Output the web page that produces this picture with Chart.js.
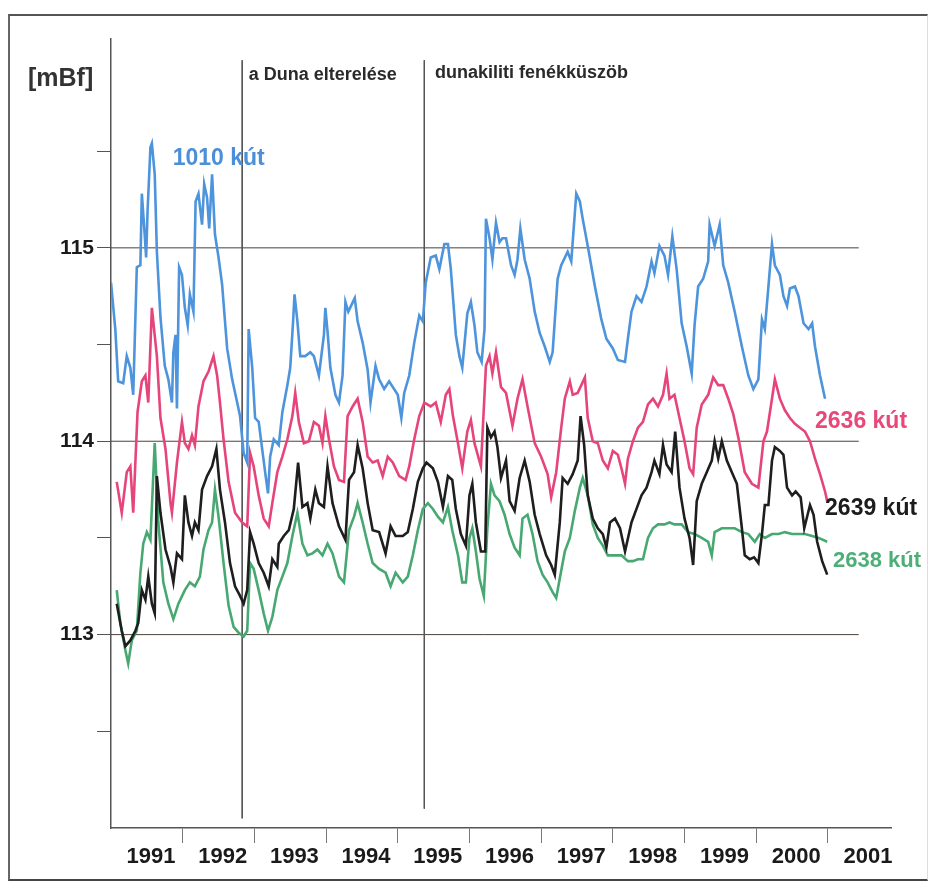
<!DOCTYPE html>
<html lang="hu"><head><meta charset="UTF-8">
<title>Talajvízszint 1991–2000</title>
<script src="https://cdn.jsdelivr.net/npm/chart.js@4.4.1/dist/chart.umd.min.js"></script>
<style>
*{box-sizing:border-box;margin:0;padding:0;}
body{width:933px;height:884px;background:#fff;overflow:hidden;font-family:'Liberation Sans',Arial,sans-serif;}
.frame{position:absolute;left:8px;top:14px;width:920px;height:867px;border-top:2px solid #555;border-left:2px solid #666;border-bottom:2px solid #444;border-right:1px solid #ddd;}
.wrap{position:absolute;left:0;top:0;width:933px;height:884px;}
</style></head>
<body>
<div class="frame"></div>
<div class="wrap"><canvas id="c"></canvas></div>
<script>
// well levels [year, mBf]
const well1010 = [[1991.00,114.82],[1991.06,114.58],[1991.10,114.31],[1991.17,114.30],[1991.22,114.44],[1991.27,114.38],[1991.31,114.24],[1991.36,114.90],[1991.41,114.91],[1991.43,115.28],[1991.47,115.07],[1991.49,114.95],[1991.51,115.19],[1991.55,115.52],[1991.57,115.54],[1991.61,115.38],[1991.64,114.98],[1991.69,114.64],[1991.75,114.39],[1991.80,114.32],[1991.85,114.20],[1991.87,114.46],[1991.90,114.55],[1991.92,114.17],[1991.95,114.90],[1991.99,114.86],[1992.03,114.69],[1992.07,114.60],[1992.10,114.76],[1992.15,114.67],[1992.18,115.24],[1992.22,115.28],[1992.27,115.12],[1992.30,115.33],[1992.34,115.26],[1992.37,115.10],[1992.41,115.38],[1992.45,115.07],[1992.50,114.95],[1992.55,114.81],[1992.62,114.48],[1992.69,114.32],[1992.76,114.20],[1992.80,114.13],[1992.85,113.94],[1992.90,113.89],[1992.92,114.58],[1992.97,114.38],[1993.01,114.12],[1993.06,114.10],[1993.15,113.84],[1993.19,113.73],[1993.22,113.92],[1993.27,114.01],[1993.34,113.98],[1993.39,114.15],[1993.46,114.29],[1993.50,114.38],[1993.54,114.62],[1993.56,114.76],[1993.60,114.62],[1993.64,114.44],[1993.71,114.44],[1993.78,114.46],[1993.83,114.44],[1993.90,114.34],[1993.97,114.55],[1993.99,114.69],[1994.02,114.57],[1994.06,114.38],[1994.13,114.24],[1994.18,114.20],[1994.23,114.34],[1994.27,114.72],[1994.31,114.67],[1994.40,114.74],[1994.44,114.62],[1994.51,114.51],[1994.58,114.37],[1994.62,114.20],[1994.69,114.39],[1994.74,114.32],[1994.81,114.27],[1994.88,114.31],[1995.00,114.24],[1995.05,114.12],[1995.09,114.25],[1995.16,114.34],[1995.23,114.51],[1995.30,114.65],[1995.35,114.62],[1995.39,114.82],[1995.46,114.95],[1995.53,114.96],[1995.58,114.89],[1995.65,115.02],[1995.70,115.02],[1995.74,114.89],[1995.81,114.55],[1995.86,114.44],[1995.90,114.38],[1995.97,114.66],[1996.02,114.72],[1996.07,114.60],[1996.11,114.46],[1996.17,114.41],[1996.21,114.58],[1996.23,115.15],[1996.28,115.05],[1996.32,114.94],[1996.37,115.13],[1996.42,115.03],[1996.46,115.05],[1996.51,115.05],[1996.58,114.91],[1996.63,114.86],[1996.67,114.94],[1996.71,115.10],[1996.77,114.94],[1996.84,114.84],[1996.91,114.67],[1996.98,114.56],[1997.05,114.49],[1997.12,114.41],[1997.16,114.46],[1997.23,114.84],[1997.28,114.91],[1997.37,114.98],[1997.42,114.93],[1997.49,115.28],[1997.54,115.24],[1997.58,115.15],[1997.65,115.01],[1997.75,114.80],[1997.84,114.63],[1997.91,114.53],[1998.00,114.48],[1998.07,114.42],[1998.17,114.41],[1998.21,114.53],[1998.26,114.67],[1998.33,114.75],[1998.40,114.72],[1998.47,114.80],[1998.54,114.93],[1998.58,114.87],[1998.65,115.01],[1998.72,114.96],[1998.77,114.86],[1998.83,115.06],[1998.89,114.89],[1998.96,114.61],[1999.03,114.49],[1999.10,114.35],[1999.14,114.60],[1999.19,114.80],[1999.26,114.84],[1999.33,114.93],[1999.35,115.12],[1999.42,115.01],[1999.49,115.12],[1999.54,114.91],[1999.61,114.82],[1999.70,114.67],[1999.80,114.49],[1999.89,114.34],[1999.96,114.27],[2000.03,114.32],[2000.08,114.63],[2000.12,114.58],[2000.17,114.80],[2000.22,115.02],[2000.26,114.91],[2000.33,114.86],[2000.38,114.75],[2000.43,114.70],[2000.47,114.79],[2000.54,114.80],[2000.59,114.75],[2000.66,114.61],[2000.73,114.58],[2000.78,114.61],[2000.82,114.49],[2000.89,114.34],[2000.96,114.22]];

const well2636 = [[1991.08,113.79],[1991.15,113.63],[1991.22,113.84],[1991.27,113.87],[1991.31,113.63],[1991.37,114.15],[1991.43,114.31],[1991.48,114.34],[1991.52,114.20],[1991.57,114.69],[1991.64,114.44],[1991.69,114.12],[1991.76,113.96],[1991.83,113.68],[1991.85,113.63],[1991.92,113.89],[1991.99,114.10],[1992.03,113.99],[1992.08,113.96],[1992.13,114.03],[1992.17,113.98],[1992.22,114.18],[1992.29,114.31],[1992.36,114.36],[1992.43,114.44],[1992.48,114.34],[1992.52,114.20],[1992.57,114.01],[1992.64,113.79],[1992.73,113.63],[1992.83,113.58],[1992.90,113.56],[1992.94,113.94],[1992.99,113.87],[1993.06,113.72],[1993.13,113.60],[1993.20,113.56],[1993.25,113.68],[1993.32,113.84],[1993.39,113.92],[1993.46,114.01],[1993.53,114.13],[1993.57,114.25],[1993.62,114.10],[1993.69,113.99],[1993.76,114.00],[1993.83,114.10],[1993.90,114.08],[1993.95,113.99],[1993.99,114.13],[1994.04,114.01],[1994.11,113.87],[1994.18,113.80],[1994.25,113.79],[1994.30,114.13],[1994.37,114.18],[1994.44,114.22],[1994.51,114.10],[1994.58,113.92],[1994.65,113.89],[1994.72,113.90],[1994.79,113.82],[1994.86,113.92],[1994.93,113.89],[1995.02,113.82],[1995.11,113.80],[1995.16,113.87],[1995.23,114.01],[1995.30,114.13],[1995.37,114.20],[1995.46,114.18],[1995.53,114.20],[1995.60,114.10],[1995.67,114.24],[1995.72,114.27],[1995.77,114.13],[1995.84,113.99],[1995.90,113.86],[1995.97,114.05],[1996.02,114.11],[1996.07,113.99],[1996.16,113.87],[1996.23,114.39],[1996.28,114.44],[1996.32,114.35],[1996.37,114.46],[1996.44,114.28],[1996.51,114.25],[1996.60,114.08],[1996.67,114.22],[1996.74,114.32],[1996.81,114.18],[1996.91,113.99],[1997.00,113.92],[1997.09,113.83],[1997.14,113.71],[1997.21,113.84],[1997.28,114.07],[1997.33,114.22],[1997.40,114.31],[1997.44,114.24],[1997.51,114.25],[1997.61,114.33],[1997.65,114.12],[1997.72,114.00],[1997.79,113.99],[1997.86,113.90],[1997.93,113.86],[1998.00,113.95],[1998.07,113.93],[1998.12,113.86],[1998.17,113.78],[1998.21,113.91],[1998.28,114.00],[1998.35,114.07],[1998.42,114.10],[1998.49,114.19],[1998.56,114.22],[1998.63,114.18],[1998.70,114.24],[1998.75,114.35],[1998.79,114.22],[1998.86,114.24],[1998.93,114.12],[1999.00,114.00],[1999.07,113.86],[1999.12,113.83],[1999.17,114.07],[1999.24,114.19],[1999.33,114.24],[1999.40,114.33],[1999.47,114.29],[1999.54,114.29],[1999.61,114.22],[1999.68,114.14],[1999.75,114.02],[1999.84,113.84],[1999.94,113.78],[2000.03,113.76],[2000.10,114.00],[2000.15,114.05],[2000.22,114.22],[2000.26,114.32],[2000.33,114.22],[2000.40,114.16],[2000.47,114.12],[2000.54,114.09],[2000.61,114.07],[2000.68,114.05],[2000.75,114.00],[2000.82,113.91],[2000.89,113.83],[2000.96,113.74],[2000.99,113.69]];

const well2639 = [[1991.08,113.16],[1991.15,113.02],[1991.20,112.94],[1991.27,112.97],[1991.34,113.02],[1991.38,113.06],[1991.43,113.23],[1991.48,113.18],[1991.52,113.30],[1991.57,113.16],[1991.61,113.11],[1991.64,113.82],[1991.69,113.63],[1991.76,113.44],[1991.83,113.35],[1991.87,113.27],[1991.92,113.42],[1991.99,113.39],[1992.03,113.72],[1992.08,113.58],[1992.13,113.51],[1992.17,113.58],[1992.22,113.54],[1992.27,113.75],[1992.34,113.82],[1992.41,113.87],[1992.47,113.96],[1992.52,113.75],[1992.59,113.58],[1992.66,113.37],[1992.73,113.25],[1992.80,113.20],[1992.85,113.16],[1992.90,113.23],[1992.94,113.53],[1992.99,113.47],[1993.06,113.37],[1993.13,113.32],[1993.20,113.25],[1993.25,113.39],[1993.32,113.35],[1993.34,113.47],[1993.41,113.51],[1993.48,113.54],[1993.55,113.65],[1993.61,113.89],[1993.67,113.66],[1993.74,113.68],[1993.78,113.60],[1993.85,113.75],[1993.90,113.68],[1993.97,113.66],[1994.02,113.87],[1994.09,113.68],[1994.18,113.56],[1994.27,113.49],[1994.32,113.80],[1994.39,113.84],[1994.44,113.98],[1994.51,113.86],[1994.58,113.68],[1994.65,113.54],[1994.74,113.53],[1994.83,113.42],[1994.90,113.56],[1994.97,113.51],[1995.07,113.51],[1995.14,113.53],[1995.21,113.65],[1995.28,113.79],[1995.35,113.86],[1995.40,113.89],[1995.49,113.86],[1995.56,113.79],[1995.63,113.66],[1995.70,113.82],[1995.76,113.80],[1995.81,113.65],[1995.88,113.52],[1995.95,113.46],[1996.00,113.72],[1996.04,113.78],[1996.09,113.58],[1996.16,113.43],[1996.22,113.43],[1996.25,114.07],[1996.30,114.02],[1996.35,114.05],[1996.39,113.97],[1996.44,113.81],[1996.51,113.90],[1996.56,113.69],[1996.63,113.64],[1996.70,113.81],[1996.77,113.90],[1996.84,113.79],[1996.91,113.62],[1996.98,113.52],[1997.07,113.41],[1997.14,113.36],[1997.19,113.31],[1997.26,113.58],[1997.30,113.81],[1997.37,113.78],[1997.44,113.83],[1997.51,113.90],[1997.55,114.13],[1997.60,113.98],[1997.65,113.72],[1997.72,113.60],[1997.79,113.55],[1997.86,113.52],[1997.91,113.45],[1997.96,113.58],[1998.03,113.60],[1998.10,113.55],[1998.17,113.43],[1998.26,113.58],[1998.33,113.65],[1998.40,113.72],[1998.47,113.76],[1998.54,113.84],[1998.58,113.90],[1998.65,113.83],[1998.70,113.98],[1998.75,113.88],[1998.82,113.84],[1998.87,114.05],[1998.93,113.76],[1999.00,113.60],[1999.07,113.50],[1999.12,113.36],[1999.17,113.69],[1999.24,113.78],[1999.31,113.84],[1999.38,113.90],[1999.42,114.00],[1999.47,113.91],[1999.52,114.00],[1999.59,113.90],[1999.66,113.84],[1999.73,113.78],[1999.80,113.55],[1999.84,113.41],[1999.91,113.39],[1999.97,113.40],[2000.03,113.37],[2000.08,113.52],[2000.12,113.67],[2000.17,113.67],[2000.22,113.90],[2000.26,113.97],[2000.33,113.95],[2000.38,113.93],[2000.43,113.76],[2000.50,113.72],[2000.55,113.74],[2000.62,113.71],[2000.67,113.55],[2000.75,113.67],[2000.80,113.62],[2000.85,113.48],[2000.92,113.38],[2000.99,113.31]];

const well2638 = [[1991.08,113.23],[1991.13,113.06],[1991.20,112.92],[1991.24,112.85],[1991.29,112.97],[1991.36,113.02],[1991.41,113.32],[1991.45,113.47],[1991.50,113.53],[1991.55,113.49],[1991.61,113.99],[1991.66,113.58],[1991.73,113.27],[1991.80,113.16],[1991.87,113.08],[1991.94,113.16],[1992.03,113.23],[1992.10,113.27],[1992.17,113.25],[1992.24,113.30],[1992.29,113.44],[1992.36,113.54],[1992.41,113.58],[1992.45,113.75],[1992.50,113.61],[1992.57,113.37],[1992.64,113.15],[1992.71,113.04],[1992.78,113.01],[1992.85,112.99],[1992.90,113.02],[1992.94,113.37],[1992.99,113.34],[1993.06,113.23],[1993.13,113.11],[1993.19,113.02],[1993.25,113.09],[1993.32,113.23],[1993.39,113.30],[1993.46,113.37],[1993.53,113.51],[1993.60,113.63],[1993.67,113.47],[1993.74,113.41],[1993.81,113.42],[1993.88,113.44],[1993.95,113.41],[1994.02,113.47],[1994.09,113.42],[1994.18,113.30],[1994.25,113.27],[1994.32,113.54],[1994.39,113.61],[1994.44,113.68],[1994.51,113.58],[1994.58,113.47],[1994.65,113.37],[1994.74,113.34],[1994.83,113.32],[1994.90,113.25],[1994.97,113.32],[1995.07,113.27],[1995.14,113.30],[1995.21,113.41],[1995.28,113.54],[1995.35,113.65],[1995.42,113.68],[1995.49,113.65],[1995.56,113.61],[1995.63,113.58],[1995.70,113.66],[1995.76,113.54],[1995.84,113.41],[1995.90,113.27],[1995.95,113.27],[1996.00,113.50],[1996.04,113.55],[1996.09,113.43],[1996.14,113.29],[1996.20,113.20],[1996.25,113.55],[1996.30,113.78],[1996.35,113.72],[1996.42,113.69],[1996.49,113.62],[1996.56,113.52],[1996.63,113.45],[1996.70,113.41],[1996.74,113.60],[1996.81,113.62],[1996.88,113.52],[1996.95,113.38],[1997.02,113.31],[1997.09,113.27],[1997.16,113.22],[1997.21,113.19],[1997.26,113.29],[1997.33,113.43],[1997.40,113.50],[1997.47,113.64],[1997.54,113.76],[1997.58,113.81],[1997.65,113.72],[1997.72,113.57],[1997.79,113.50],[1997.86,113.46],[1997.93,113.41],[1998.03,113.41],[1998.12,113.41],[1998.21,113.38],[1998.28,113.38],[1998.35,113.39],[1998.42,113.39],[1998.49,113.50],[1998.56,113.55],[1998.63,113.57],[1998.72,113.57],[1998.79,113.58],[1998.86,113.57],[1998.96,113.57],[1999.05,113.53],[1999.14,113.52],[1999.24,113.50],[1999.33,113.48],[1999.38,113.41],[1999.42,113.53],[1999.52,113.55],[1999.61,113.55],[1999.70,113.55],[1999.80,113.53],[1999.89,113.52],[1999.98,113.48],[2000.05,113.52],[2000.12,113.50],[2000.22,113.52],[2000.31,113.52],[2000.40,113.53],[2000.50,113.52],[2000.59,113.52],[2000.68,113.52],[2000.78,113.51],[2000.87,113.50],[2000.99,113.48]];

const yearTicks  = [1991,1992,1993,1994,1995,1996,1997,1998,1999,2000,2001];
const levelTicks = [112.5,113,113.5,114,114.5,115,115.5];
const gridLevels = [113,114,115];
const gridSpan   = [1991,2001.43];
// event markers: year, label
const events     = [[1992.83,'a Duna elterelése'],[1995.37,'dunakiliti fenékküszöb']];

const SANS = "'Liberation Sans',Arial,sans-serif";

const pts = arr => arr.map(p => ({x:p[0], y:p[1]}));
const well = (label, arr, color, order) => ({label, data:pts(arr), borderColor:color, borderWidth:2.6,
  pointRadius:0, tension:0, fill:false, order});

const gridSets = gridLevels.map(v => ({label:'g'+v, data:gridSpan.map(x => ({x, y:v})),
  borderColor:'#4d4238', borderWidth:1, pointRadius:0, order:20}));
const eventSets = events.map((e, i) => ({label:'e'+i, data:[{x:e[0], y:115.97}, {x:e[0], y:i ? 112.1 : 112.05}],
  borderColor:'#555', borderWidth:1, pointRadius:0, order:19}));

// free text on the chart (labels of wells, events, unit)
const notes = [
  {t:'1010 kút', x:1991.86, y:115.43, c:'#4a8fd8', f:'bold 23px '+SANS},
  {t:'2636 kút', x:2000.82, y:114.07, c:'#e8497a', f:'bold 23px '+SANS},
  {t:'2639 kút', x:2000.96, y:113.62, c:'#1c1c1c', f:'bold 23px '+SANS},
  {t:'2638 kút', x:2001.07, y:113.35, c:'#4dae78', f:'bold 22px '+SANS},
  {t:events[0][1], x:events[0][0]+0.09, y:115.87, c:'#2a2a2a', f:'bold 18px '+SANS},
  {t:events[1][1], x:events[1][0]+0.15, y:115.88, c:'#2a2a2a', f:'bold 18px '+SANS},
];

const textPlugin = {
  id:'notes',
  afterDatasetsDraw(chart) {
    const {ctx, scales:{x, y}} = chart;
    ctx.save();
    ctx.textBaseline = 'alphabetic';
    ctx.textAlign = 'left';
    notes.forEach(n => {
      ctx.font = n.f; ctx.fillStyle = n.c;
      ctx.fillText(n.t, x.getPixelForValue(n.x), y.getPixelForValue(n.y));
    });
    ctx.font = 'bold 25px '+SANS; ctx.fillStyle = '#333';
    ctx.fillText('[mBf]', 28, 86);
    ctx.restore();
  }
};

new Chart(document.getElementById('c'), {
  type:'line',
  data:{datasets:[
    well('1010 kút', well1010, '#4d94dc', 1),
    well('2636 kút', well2636, '#e6457a', 2),
    well('2639 kút', well2639, '#1e1e1e', 3),
    well('2638 kút', well2638, '#47a872', 4),
    ...gridSets, ...eventSets
  ]},
  options:{
    responsive:true, maintainAspectRatio:false, animation:false,
    layout:{padding:{left:0, right:42, top:39, bottom:0}},
    plugins:{legend:{display:false}, tooltip:{enabled:false}},
    scales:{
      x:{type:'linear', min:1991, max:2001.88,
        afterBuildTicks:s => { s.ticks = yearTicks.map(v => ({value:v})); },
        afterFit:s => { s.height = 56; },
        ticks:{autoSkip:false, maxRotation:0, labelOffset:40, padding:1, color:'#1a1a1a',
          font:{family:SANS, size:22, weight:'bold'}, callback:v => String(v)},
        grid:{drawOnChartArea:false, tickLength:15, tickColor:c => c.index === 0 ? 'rgba(0,0,0,0)' : '#777'},
        border:{color:'#555', width:1.5}},
      y:{min:112, max:116.08,
        afterBuildTicks:s => { s.ticks = levelTicks.map(v => ({value:v})); },
        afterFit:s => { s.width = 111; },
        ticks:{padding:3, color:'#1a1a1a', font:{family:SANS, size:21, weight:'bold'},
          callback:v => Number.isInteger(v) ? String(v) : ''},
        grid:{drawOnChartArea:false, tickLength:14, tickColor:'#555'},
        border:{color:'#555', width:1.5}}
    }
  },
  plugins:[textPlugin]
});
</script>
</body></html>
